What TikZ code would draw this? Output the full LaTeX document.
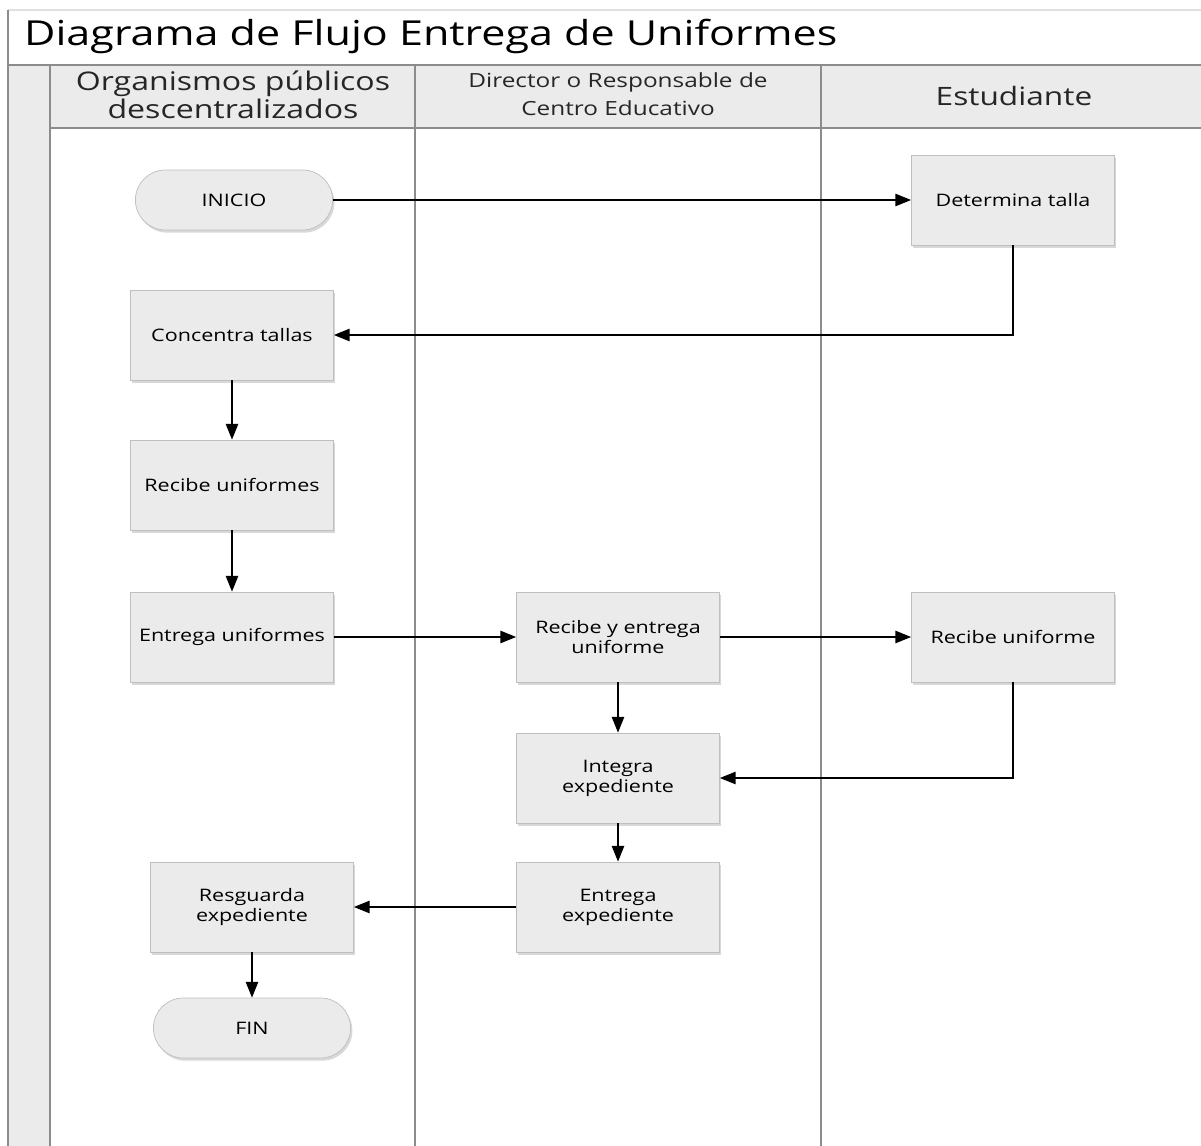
\documentclass[tikz,border=0pt]{standalone}
\usepackage{fontspec}
\setmainfont{Open Sans}[FakeStretch=1.25]
\usepackage{tikz}
\usetikzlibrary{shadows}
\usetikzlibrary{positioning}
\usetikzlibrary{arrows.meta}
\usetikzlibrary{shapes.misc}

\begin{document}
\begin{tikzpicture}[x=0.02cm, y=-0.02cm,
        proc/.style={rectangle, draw=black!25, fill=black!8, drop shadow={opacity=0.3, shadow xshift=1pt, shadow yshift=-1.5pt}, minimum width=4.06cm, minimum height=1.8cm, align=center, font=\fontsize{9.8}{11.3}\selectfont},
        term/.style={rounded rectangle, draw=black!25, fill=black!8, drop shadow={opacity=0.3, shadow xshift=1pt, shadow yshift=-1.5pt}, minimum width=4.18cm, minimum height=1.2cm, font=\fontsize{9.8}{11.3}\selectfont},
        lane/.style={draw=black!45, line width=1pt},
        head/.style={align=center, text=black!85},
        flow/.style={-{Triangle[length=9pt, width=7pt]}, line width=1pt}
      ]
        \useasboundingbox (0,0) rectangle (1201,1146);

        % marco y carriles
        \fill[white] (0,0) rectangle (1201,1146);
        \fill[black!8] (8,65) rectangle (50,1146);
        \fill[black!8] (50,65) rectangle (1201,128);
        \draw[black!12, line width=1pt] (8,10) -- (1201,10);
        \draw[lane] (8,1146) -- (8,10);
        \draw[lane] (8,65) -- (1201,65);
        \draw[lane] (50,128) -- (1201,128);
        \draw[lane] (50,65) -- (50,1146);
        \draw[lane] (415,65) -- (415,1146);
        \draw[lane] (821,65) -- (821,1146);

        \node[anchor=base west, font=\fontsize{19.6}{22}\selectfont] (titulo) at (18,46) {Diagrama de Flujo Entrega de Uniformes};
        \node[head, font=\fontsize{14.6}{16}\selectfont] (lane1) at (233,95)  {Organismos públicos\\descentralizados};
        \node[head, font=\fontsize{11.1}{16}\selectfont] (lane2) at (618,94)  {Director o Responsable de\\Centro Educativo};
        \node[head, font=\fontsize{14.4}{16}\selectfont] (lane3) at (1014,96) {Estudiante};

        % pasos
        \node[term] (inicio)    at (234,200)  {INICIO};
        \node[proc] (talla)     at (1013,200) {Determina talla};
        \node[proc] (concentra) at (232,335)  {Concentra tallas};
        \node[proc] (recibe)    at (232,485)  {Recibe uniformes};
        \node[proc] (entrega)   at (232,637)  {Entrega uniformes};
        \node[proc] (recent)    at (618,637)  {Recibe y entrega\\uniforme};
        \node[proc] (reciben)   at (1013,637) {Recibe uniforme};
        \node[proc] (integra)   at (618,778)  {Integra\\expediente};
        \node[proc] (entexp)    at (618,907)  {Entrega\\expediente};
        \node[proc] (resguarda) at (252,907)  {Resguarda\\expediente};
        \node[term] (fin)       at (252,1028) {FIN};

        \draw[flow] (inicio.east) -- (talla.west);
        \draw[flow] (talla.south) |- (concentra.east);
        \draw[flow] (concentra.south) -- (recibe.north);
        \draw[flow] (recibe.south) -- (entrega.north);
        \draw[flow] (entrega.east) -- (recent.west);
        \draw[flow] (recent.east) -- (reciben.west);
        \draw[flow] (recent.south) -- (integra.north);
        \draw[flow] (reciben.south) |- (integra.east);
        \draw[flow] (integra.south) -- (entexp.north);
        \draw[flow] (entexp.west) -- (resguarda.east);
        \draw[flow] (resguarda.south) -- (fin.north);
      \end{tikzpicture}
\end{document}
